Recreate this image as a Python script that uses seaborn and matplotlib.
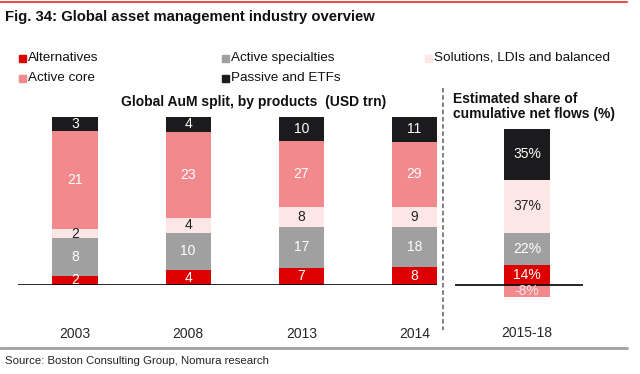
import pandas as pd
import seaborn as sns
import matplotlib.pyplot as plt
from matplotlib.patches import Rectangle
from matplotlib.lines import Line2D

# AuM split (USD trn), bottom to top
years = ['2003', '2008', '2013', '2014']
alternatives = [2, 4, 7, 8]
active_specialties = [8, 10, 17, 18]
solutions = [2, 4, 8, 9]
active_core = [21, 23, 27, 29]
passive = [3, 4, 10, 11]

# share of cumulative net flows (%)
flow_period = ['2015-18']
flow_alternatives = [14]
flow_specialties = [22]
flow_solutions = [37]
flow_core = [-8]
flow_passive = [35]

names = ['Alternatives', 'Active specialties', 'Solutions, LDIs and balanced',
         'Active core', 'Passive and ETFs']
colors = ['#DD0000', '#A0A0A0', '#FDE6E6', '#F2898D', '#1B1A1C']
txt_colors = ['white', 'white', '#222222', 'white', 'white']

sns.set_theme(style='white')
plt.rcParams['font.family'] = ['Liberation Sans', 'DejaVu Sans']

W, H = 640, 374
fig = plt.figure(figsize=(6.4, 3.74), dpi=100)


def box(x0, y0, x1, y1):
    return [x0 / W, 1 - y1 / H, (x1 - x0) / W, (y1 - y0) / H]


# ---- left panel: 100% stacked with absolute labels
aum = pd.DataFrame({'year': years, names[0]: alternatives, names[1]: active_specialties,
                    names[2]: solutions, names[3]: active_core, names[4]: passive})
vals = aum[names]
shares = vals.div(vals.sum(axis=1), axis=0) * 100
cum = shares.cumsum(axis=1)

ax = fig.add_axes(box(18, 117, 437, 285))
for i in range(len(names) - 1, -1, -1):
    sns.barplot(x=aum['year'], y=cum[names[i]], color=colors[i], width=0.4,
                saturation=1, linewidth=0, ax=ax)
for j in range(len(years)):
    for i, n in enumerate(names):
        yc = cum.loc[j, n] - shares.loc[j, n] / 2
        ax.text(j, yc, str(vals.loc[j, n]), ha='center', va='center',
                color=txt_colors[i], fontsize=10)
ax.set_ylim(0, 100)
ax.set_xlim(-0.504, 3.2)
ax.axhline(0, color='black', lw=1.2)
ax.set_xticks(range(len(years)), years)
ax.tick_params(axis='x', length=0, pad=30, labelsize=10)
ax.set_yticks([])
ax.set_xlabel('')
ax.set_ylabel('')
sns.despine(ax=ax, left=True, bottom=True)

# ---- right panel: net flow shares
flows = pd.DataFrame({'period': flow_period, names[0]: flow_alternatives,
                      names[1]: flow_specialties, names[2]: flow_solutions,
                      names[3]: flow_core, names[4]: flow_passive})
pos = [names[0], names[1], names[2], names[4]]
fcum = flows[pos].cumsum(axis=1)

ax2 = fig.add_axes(box(455, 129, 583, 297))
for n in pos[::-1]:
    sns.barplot(x=flows['period'], y=fcum[n], color=colors[names.index(n)],
                width=0.4, saturation=1, linewidth=0, ax=ax2)
sns.barplot(x=flows['period'], y=flows[names[3]], color=colors[3], width=0.4,
            saturation=1, linewidth=0, ax=ax2)
for n in pos:
    v = flows.loc[0, n]
    ax2.text(0, fcum.loc[0, n] - v / 2, f'{v}%', ha='center', va='center',
             color=txt_colors[names.index(n)], fontsize=10)
v = flows.loc[0, names[3]]
ax2.text(0, v / 2, f'{v}%', ha='center', va='center', color='#FCE4E4', fontsize=10)
ax2.set_ylim(-8, 108)
ax2.set_xlim(-0.637, 0.496)
ax2.axhline(0, color='black', lw=1.2)
ax2.set_xticks([0], flow_period)
ax2.tick_params(axis='x', length=0, pad=21, labelsize=10)
ax2.set_yticks([])
ax2.set_xlabel('')
ax2.set_ylabel('')
sns.despine(ax=ax2, left=True, bottom=True)

# ---- decorations
fig.add_artist(Line2D([0, 627 / W], [1 - 2 / H] * 2, color='#E4504F', lw=1.5))
fig.add_artist(Line2D([0, 627 / W], [1 - 348 / H] * 2, color='#A0A0A0', lw=2))
fig.add_artist(Line2D([443 / W] * 2, [1 - 88 / H, 1 - 330 / H], color='#777777',
                      lw=1.3, ls=(0, (2.5, 1.5))))

fig.text(5 / W, 1 - 17 / H, 'Fig. 34: Global asset management industry overview',
         fontsize=10.7, fontweight='bold', va='center', ha='left', color='#111111')
fig.text(254 / W, 1 - 102 / H, 'Global AuM split, by products  (USD trn)',
         fontsize=10, fontweight='bold', va='center', ha='center', color='#111111')
fig.text(453 / W, 1 - 106.5 / H, 'Estimated share of\ncumulative net flows (%)',
         fontsize=10, fontweight='bold', va='center', ha='left', linespacing=1.15,
         color='#111111')
fig.text(5 / W, 1 - 361 / H, 'Source: Boston Consulting Group, Nomura research',
         fontsize=8.2, va='center', ha='left', color='#222222')

# legend, laid out like the original (3 columns)
leg_pos = [(19, 58), (222, 58), (425, 58), (19, 78), (222, 78)]
for (lx, ly), n, c in zip(leg_pos, names, colors):
    fig.add_artist(Rectangle((lx / W, 1 - (ly + 3.5) / H), 7 / W, 7 / H,
                             color=c, transform=fig.transFigure))
    fig.text((lx + 9) / W, 1 - ly / H, n, fontsize=9.7, va='center', ha='left',
             color='#111111')

fig.savefig('out.png', dpi=100)
